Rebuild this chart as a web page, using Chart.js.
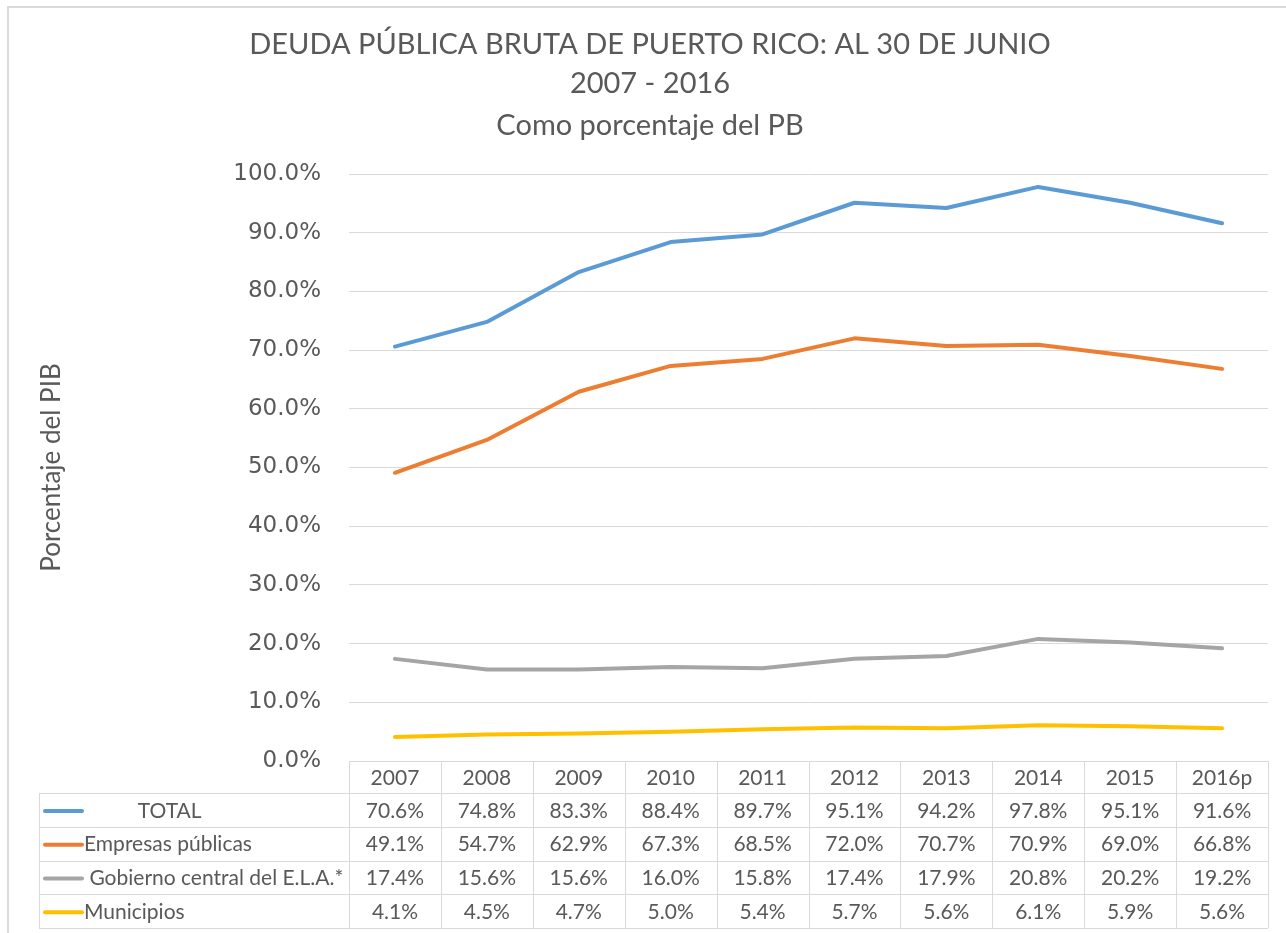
<!DOCTYPE html>
<html>
<head>
<meta charset="utf-8">
<script src="https://cdn.jsdelivr.net/npm/chart.js@4/dist/chart.umd.min.js"></script>
<style>
  body { margin: 0; background: #fff; }
  #wrap { width: 1286px; height: 933px; }
</style>
</head>
<body>
<div id="wrap"><canvas id="chart" width="1286" height="933"></canvas></div>
<script>
// data
const years = ['2007', '2008', '2009', '2010', '2011', '2012', '2013', '2014', '2015', '2016p'];
const total = [70.6, 74.8, 83.3, 88.4, 89.7, 95.1, 94.2, 97.8, 95.1, 91.6];
const empresas = [49.1, 54.7, 62.9, 67.3, 68.5, 72.0, 70.7, 70.9, 69.0, 66.8];
const gobierno = [17.4, 15.6, 15.6, 16.0, 15.8, 17.4, 17.9, 20.8, 20.2, 19.2];
const municipios = [4.1, 4.5, 4.7, 5.0, 5.4, 5.7, 5.6, 6.1, 5.9, 5.6];
const seriesNames = ['          TOTAL', 'Empresas públicas', ' Gobierno central del E.L.A.*', 'Municipios'];
const seriesColors = ['#5B9BD5', '#ED7D31', '#A5A5A5', '#FFC000'];
const titleLines = ['DEUDA PÚBLICA BRUTA DE PUERTO RICO: AL 30 DE JUNIO', '2007 - 2016', 'Como porcentaje del PB'];

const textColor = '#595959';
const gridColor = '#D9D9D9';
const txtFont = 'Lato, "Open Sans", sans-serif';

const allSeries = [total, empresas, gobierno, municipios];

// frame, title and the data table under the plot
const extras = {
  id: 'extras',
  afterDraw(chart) {
    const c = chart.ctx;
    const area = chart.chartArea;
    const xs = chart.scales.x;
    c.save();

    // outer frame
    c.strokeStyle = gridColor;
    c.lineWidth = 2;
    c.beginPath();
    c.moveTo(8, 940);
    c.lineTo(8, 7);
    c.lineTo(1290, 7);
    c.stroke();

    // title
    c.fillStyle = textColor;
    c.textAlign = 'center';
    c.textBaseline = 'middle';
    c.font = '29px ' + txtFont;
    c.fillText(titleLines[0], 650, 45);
    c.fillText(titleLines[1], 650, 84);
    c.fillText(titleLines[2], 650, 126);

    // table
    const colW = (area.right - area.left) / years.length;
    const headTop = area.bottom;
    const headH = 32;
    const rowH = 33.8;
    const legLeft = 39;
    const bottom = headTop + headH + rowH * allSeries.length;

    c.strokeStyle = gridColor;
    c.lineWidth = 1;
    c.beginPath();
    // vertical lines
    for (let i = 0; i <= years.length; i++) {
      const x = Math.round(area.left + i * colW) + 0.5;
      c.moveTo(x, headTop);
      c.lineTo(x, bottom);
    }
    c.moveTo(legLeft + 0.5, headTop + headH);
    c.lineTo(legLeft + 0.5, bottom);
    // horizontal lines
    for (let r = 0; r <= allSeries.length; r++) {
      const y = Math.round(headTop + headH + r * rowH) + 0.5;
      c.moveTo(legLeft, y);
      c.lineTo(area.right, y);
    }
    c.stroke();

    c.font = '21px ' + txtFont;
    c.fillStyle = textColor;
    c.textAlign = 'center';
    years.forEach((y, i) => {
      c.fillText(y, xs.getPixelForValue(i), headTop + headH / 2 + 1);
    });

    allSeries.forEach((vals, r) => {
      const cy = headTop + headH + r * rowH + rowH / 2 + 1;
      // legend swatch
      c.strokeStyle = seriesColors[r];
      c.lineWidth = 4;
      c.lineCap = 'round';
      c.beginPath();
      c.moveTo(45, cy);
      c.lineTo(82, cy);
      c.stroke();

      c.fillStyle = textColor;
      c.textAlign = 'left';
      c.fillText(seriesNames[r], 84, cy);
      c.textAlign = 'center';
      vals.forEach((v, i) => {
        c.fillText(v.toFixed(1) + '%', xs.getPixelForValue(i), cy);
      });
    });

    c.restore();
  }
};

const ctx = document.getElementById('chart').getContext('2d');
const debtChart = new Chart(ctx, {
  type: 'line',
  data: {
    labels: years,
    datasets: allSeries.map((vals, i) => ({
      label: seriesNames[i].trim(),
      data: vals,
      borderColor: seriesColors[i],
      backgroundColor: seriesColors[i],
      borderWidth: 4,
      pointRadius: 0,
      tension: 0,
      borderJoinStyle: 'round',
      borderCapStyle: 'round'
    }))
  },
  options: {
    responsive: false,
    animation: false,
    layout: {
      padding: { top: 174, left: 0, right: 18, bottom: 172 }
    },
    plugins: {
      legend: { display: false },
      tooltip: { enabled: false },
      title: { display: false }
    },
    scales: {
      x: {
        display: false,
        offset: true
      },
      y: {
        min: 0,
        max: 100,
        ticks: {
          stepSize: 10,
          padding: 28,
          color: textColor,
          font: { family: '"DejaVu Sans"', size: 23 },
          callback: v => v.toFixed(1) + '%'
        },
        grid: {
          color: gridColor,
          lineWidth: 1,
          drawTicks: false
        },
        border: { display: false },
        title: {
          display: true,
          text: 'Porcentaje del PIB',
          color: textColor,
          font: { family: 'Lato', size: 26 },
          padding: { top: 36, bottom: 0 }
        },
        afterFit(scale) {
          scale.width = 349;
        }
      }
    }
  },
  plugins: [extras]
});
</script>
</body>
</html>
